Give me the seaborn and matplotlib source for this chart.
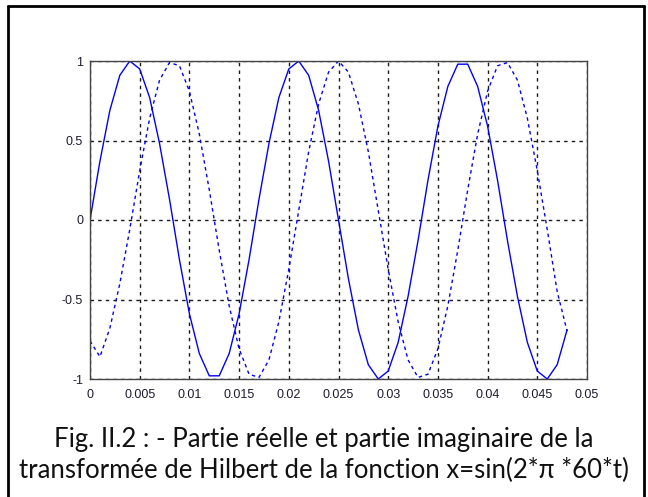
import matplotlib
matplotlib.use("Agg")
import matplotlib.pyplot as plt
from matplotlib.lines import Line2D
import pandas as pd
import seaborn as sns

# time samples (s), 1 kHz sampling
t = [0.000, 0.001, 0.002, 0.003, 0.004, 0.005, 0.006, 0.007, 0.008, 0.009,
     0.010, 0.011, 0.012, 0.013, 0.014, 0.015, 0.016, 0.017, 0.018, 0.019,
     0.020, 0.021, 0.022, 0.023, 0.024, 0.025, 0.026, 0.027, 0.028, 0.029,
     0.030, 0.031, 0.032, 0.033, 0.034, 0.035, 0.036, 0.037, 0.038, 0.039,
     0.040, 0.041, 0.042, 0.043, 0.044, 0.045, 0.046, 0.047, 0.048]

# real part of the analytic signal
real_part = [0.00, 0.37, 0.69, 0.91, 1.00, 0.95, 0.77, 0.48, 0.13, -0.25,
             -0.59, -0.84, -0.98, -0.98, -0.84, -0.59, -0.25, 0.13, 0.48, 0.77,
             0.95, 1.00, 0.91, 0.69, 0.37, 0.00, -0.37, -0.69, -0.91, -1.00,
             -0.95, -0.77, -0.48, -0.13, 0.25, 0.59, 0.84, 0.98, 0.98, 0.84,
             0.59, 0.25, -0.13, -0.48, -0.77, -0.95, -1.00, -0.91, -0.69]

# imaginary part (Hilbert transform)
imag_part = [-0.76, -0.86, -0.68, -0.40, -0.06, 0.31, 0.64, 0.88, 0.99, 0.97,
             0.81, 0.54, 0.19, -0.19, -0.54, -0.81, -0.97, -0.99, -0.88, -0.64,
             -0.31, 0.06, 0.43, 0.73, 0.93, 1.00, 0.93, 0.73, 0.43, 0.06,
             -0.31, -0.64, -0.88, -0.99, -0.97, -0.81, -0.54, -0.19, 0.19, 0.54,
             0.81, 0.97, 0.99, 0.88, 0.64, 0.31, -0.06, -0.45, -0.70]

x_ticks = [0, 0.005, 0.01, 0.015, 0.02, 0.025, 0.03, 0.035, 0.04, 0.045, 0.05]
x_labels = ["0", "0.005", "0.01", "0.015", "0.02", "0.025", "0.03", "0.035",
            "0.04", "0.045", "0.05"]
y_ticks = [-1, -0.5, 0, 0.5, 1]
y_labels = ["-1", "-0.5", "0", "0.5", "1"]

caption = ("Fig. II.2 : - Partie réelle et partie imaginaire de la\n"
           "transformée de Hilbert de la fonction x=sin(2*π *60*t)")

sns.set_style("white")
plt.rcParams["font.family"] = ["Liberation Sans", "DejaVu Sans"]

df = pd.DataFrame({"t": t + t,
                   "v": real_part + imag_part,
                   "part": ["real"] * len(t) + ["imag"] * len(t)})

W, H = 648, 497
fig = plt.figure(figsize=(W / 100, H / 100), dpi=100)
fig.patch.set_facecolor("white")

ax = fig.add_axes([90 / W, 1 - 379 / H, (587 - 90) / W, (379 - 61) / H])
sns.lineplot(data=df[df.part == "real"], x="t", y="v", ax=ax,
             color="#0000ff", linewidth=1.0, estimator=None, legend=False)
sns.lineplot(data=df[df.part == "imag"], x="t", y="v", ax=ax,
             color="#0000ff", linewidth=1.0, estimator=None, legend=False,
             linestyle=(0, (2.5, 2.5)))

ax.set_xlim(0, 0.05)
ax.set_ylim(-1, 1)
ax.set_xticks(x_ticks)
ax.set_xticklabels(x_labels)
ax.set_yticks(y_ticks)
ax.set_yticklabels(y_labels)
ax.set_xlabel("")
ax.set_ylabel("")
ax.tick_params(axis="both", direction="in", length=3, width=0.8,
               colors="#404040", labelcolor="#1c1c30", labelsize=9)
ax.tick_params(axis="x", pad=7)
ax.tick_params(axis="y", pad=5)
ax.grid(True, color="#1a1a1a", linestyle=(0, (2.5, 3)), linewidth=1.0)
for sp in ax.spines.values():
    sp.set_color("#444444")
    sp.set_linewidth(1.0)
    sp.set_visible(True)

# caption below the plot
fig.text(324 / W, 1 - 455 / H, caption, ha="center", va="center",
         fontsize=18.5, family=["Lato", "DejaVu Sans"], color="#111111",
         linespacing=1.25)

# frame of the figure cell
for xs, ys in [([7.5, 7.5], [H, 5.5]), ([7.5, 643.5], [5.5, 5.5]),
               ([643.5, 643.5], [5.5, H])]:
    fig.add_artist(Line2D([x / W for x in xs], [1 - y / H for y in ys],
                          transform=fig.transFigure, color="black",
                          linewidth=2.0))

fig.savefig("out.png", dpi=100)
